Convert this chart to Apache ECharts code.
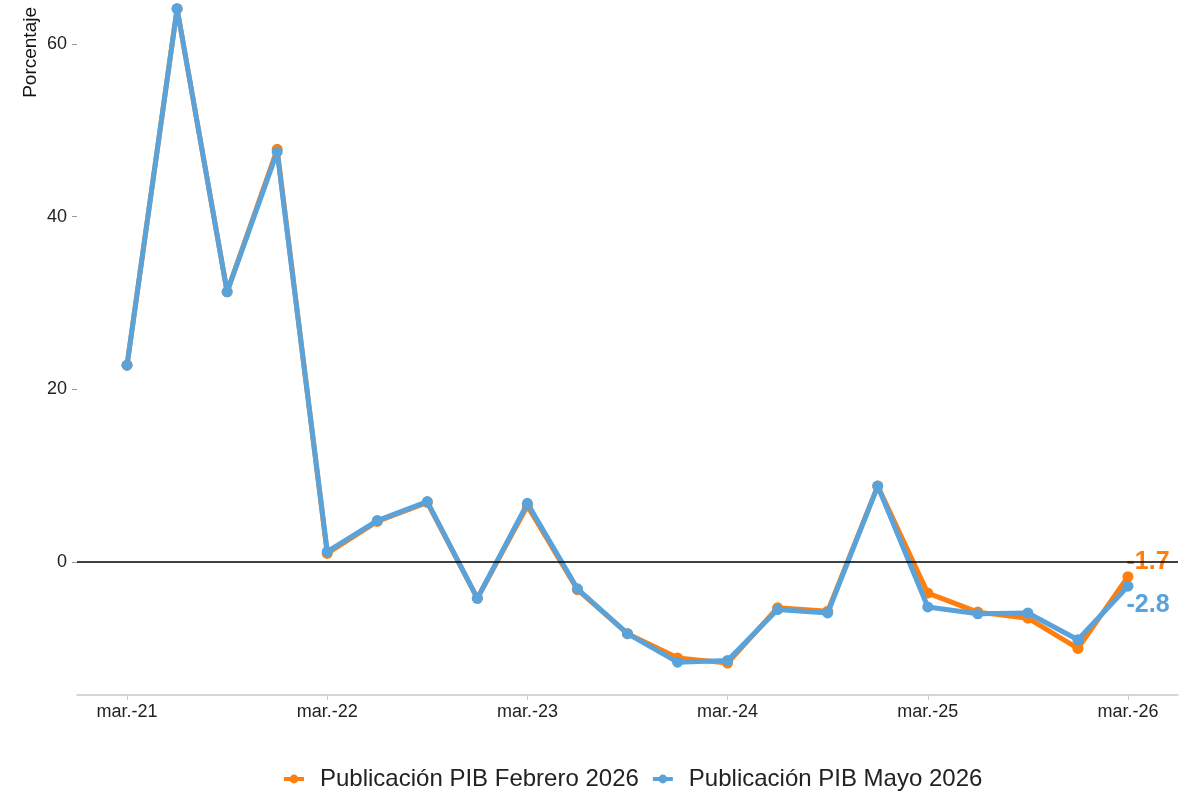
<!DOCTYPE html>
<html>
<head>
<meta charset="utf-8">
<script src="https://cdn.jsdelivr.net/npm/echarts@6/dist/echarts.min.js"></script>
<style>
  html, body { margin: 0; padding: 0; background: #fff; }
  #chart { width: 1199px; height: 792px; }
</style>
</head>
<body>
<div id="chart"></div>
<script>
// Quarterly periods, March 2021 to March 2026
const quarters = [
  'mar.-21', 'jun.-21', 'sep.-21', 'dic.-21',
  'mar.-22', 'jun.-22', 'sep.-22', 'dic.-22',
  'mar.-23', 'jun.-23', 'sep.-23', 'dic.-23',
  'mar.-24', 'jun.-24', 'sep.-24', 'dic.-24',
  'mar.-25', 'jun.-25', 'sep.-25', 'dic.-25',
  'mar.-26'
];
// Year-on-year variation (%) by publication
const pubFebrero = [22.8, 64.1, 31.3, 47.8, 1.0, 4.7, 6.9, -4.2, 6.5, -3.2, -8.3,
                    -11.1, -11.7, -5.3, -5.7, 8.8, -3.6, -5.8, -6.5, -10.0, -1.7];
const pubMayo    = [22.8, 64.1, 31.3, 47.5, 1.2, 4.8, 7.0, -4.2, 6.8, -3.1, -8.3,
                    -11.6, -11.4, -5.5, -5.9, 8.8, -5.2, -6.0, -5.9, -9.0, -2.8];
const seriesNames = ['Publicación PIB Febrero 2026', 'Publicación PIB Mayo 2026'];
const yTicks = [0, 20, 40, 60];
const xTickIdx = [0, 4, 8, 12, 16, 20];

const ORANGE = '#FF7F0E';
const BLUE = '#5AA2DA';
const FONT = 'Liberation Sans, Arial, sans-serif';

function toPoints(values, color, labelPos) {
  return values.map((v, i) => {
    const p = { value: [i, v] };
    if (i === values.length - 1) {
      p.label = {
        show: true,
        formatter: String(v),
        position: labelPos,
        align: 'left',
        verticalAlign: 'middle',
        color: color,
        fontSize: 25,
        fontWeight: 'bold',
        fontFamily: FONT
      };
    }
    return p;
  });
}

const chart = echarts.init(document.getElementById('chart'), null, { renderer: 'canvas' });
chart.setOption({
  animation: false,
  backgroundColor: '#ffffff',
  grid: { left: 77, right: 21, top: 0, bottom: 97, containLabel: false },
  graphic: [{
    type: 'text',
    left: 21,
    top: 7,
    rotation: Math.PI / 2,
    style: { text: 'Porcentaje', fill: '#111', fontSize: 19, fontFamily: FONT }
  }],
  xAxis: {
    type: 'value',
    min: -1,
    max: 21,
    splitLine: { show: false },
    axisLine: { show: true, onZero: false, lineStyle: { color: '#c8c8c8', width: 1.5 } },
    axisTick: { show: true, length: 5, customValues: xTickIdx, lineStyle: { color: '#c8c8c8' } },
    axisLabel: {
      customValues: xTickIdx,
      formatter: v => quarters[v] || '',
      color: '#222', fontSize: 18, fontFamily: FONT, margin: 8
    }
  },
  yAxis: {
    type: 'value',
    min: -15.4,
    max: 65.1,
    splitLine: { show: false },
    axisLine: { show: false, onZero: false },
    axisTick: { show: true, length: 5, customValues: yTicks, lineStyle: { color: '#999' } },
    axisLabel: {
      customValues: yTicks,
      color: '#222', fontSize: 18, fontFamily: FONT, margin: 10
    }
  },
  legend: {
    top: 762,
    left: 277,
    itemGap: 12,
    itemWidth: 20,
    itemHeight: 11,
    lineStyle: { width: 4 },
    textStyle: { color: '#222', fontSize: 24, fontFamily: FONT, padding: [0, 0, 0, 11] },
    data: seriesNames
  },
  series: [
    {
      name: seriesNames[0],
      type: 'line',
      data: toPoints(pubFebrero, ORANGE, [4, -9]),
      color: ORANGE,
      symbol: 'circle',
      symbolSize: 11,
      lineStyle: { width: 5, color: ORANGE },
      itemStyle: { color: ORANGE },
      z: 3,
      markLine: {
        silent: true,
        symbol: 'none',
        label: { show: false },
        lineStyle: { color: '#000', width: 1.5, type: 'solid' },
        data: [{ yAxis: 0 }]
      }
    },
    {
      name: seriesNames[1],
      type: 'line',
      data: toPoints(pubMayo, BLUE, [4, 24]),
      color: BLUE,
      symbol: 'circle',
      symbolSize: 11,
      lineStyle: { width: 5, color: BLUE },
      itemStyle: { color: BLUE },
      z: 4
    }
  ]
});
</script>
</body>
</html>
